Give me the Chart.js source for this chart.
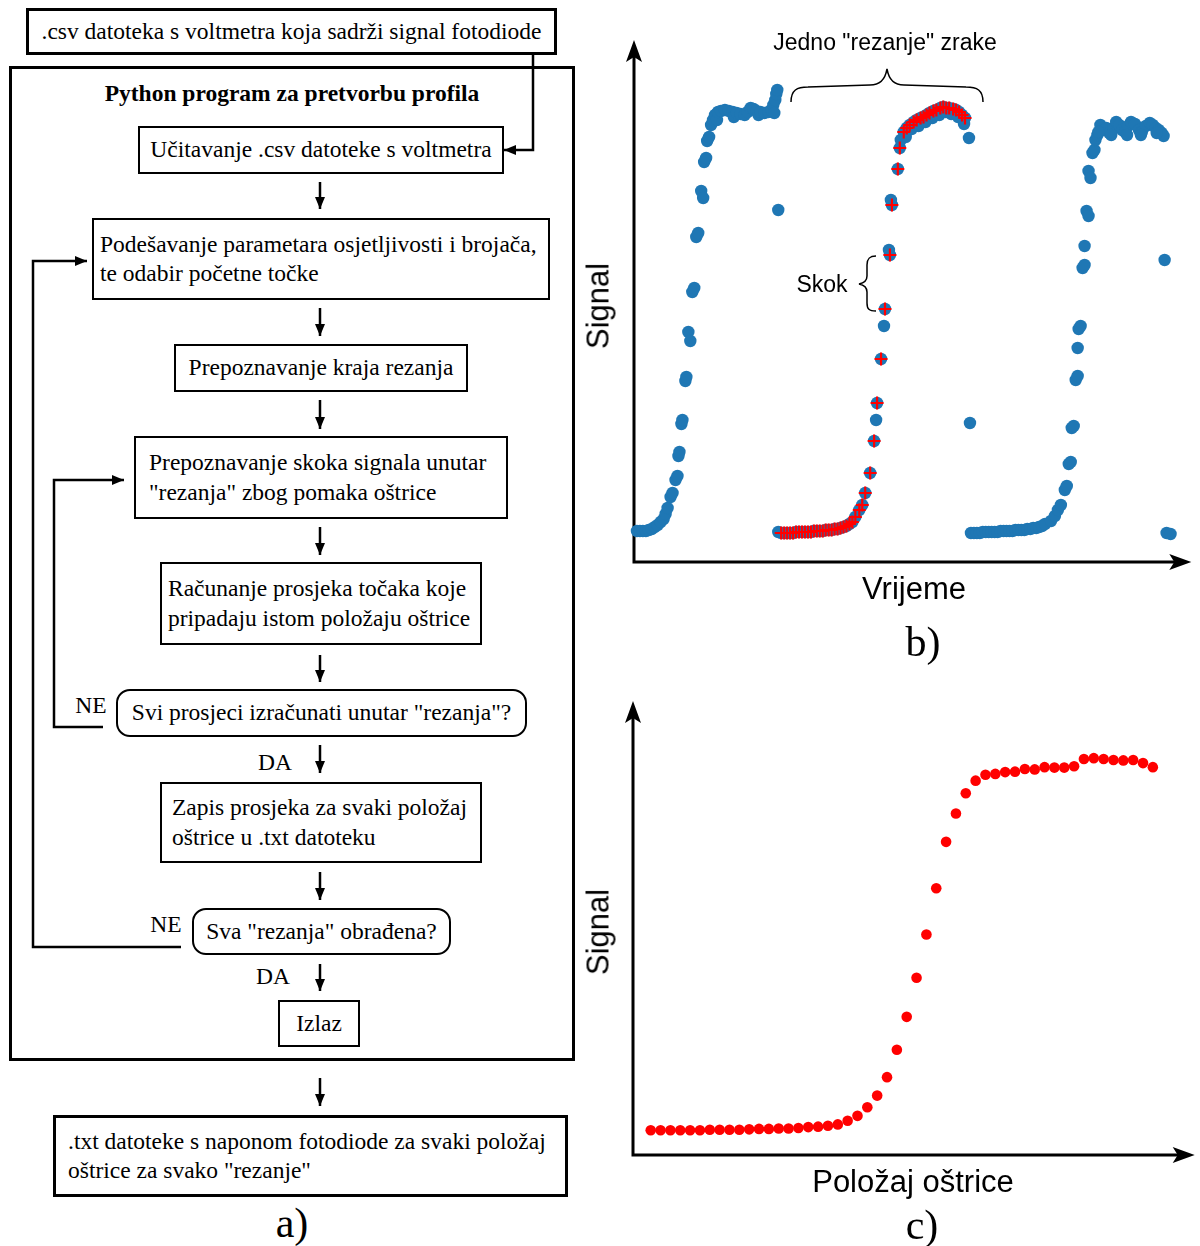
<!DOCTYPE html>
<html>
<head>
<meta charset="utf-8">
<script src="https://cdn.jsdelivr.net/npm/chart.js@4.4.0/dist/chart.umd.min.js"></script>
<style>
body { margin: 0; background: #fff; }
#page { position: relative; width: 1200px; height: 1246px; overflow: hidden; font-family: "Liberation Serif", "Times New Roman", serif; color: #000; }
.box { position: absolute; box-sizing: border-box; border: 2px solid #000; display: flex; align-items: center; font-size: 23.5px; line-height: 29.5px; white-space: nowrap; }
.thick { border-width: 3px; }
.c { justify-content: center; }
.r { border-radius: 14px; }
.lbl { position: absolute; white-space: nowrap; line-height: 1; transform: translate(-50%, -50%); }
.sans { font-family: "Liberation Sans", Arial, sans-serif; }
canvas { position: absolute; }
svg { position: absolute; left: 0; top: 0; }
</style>
</head>
<body>
<div id="page">
  <!-- a) flowchart -->
  <div class="box thick c" style="left:26px;top:8px;width:531px;height:47px;">.csv datoteka s voltmetra koja sadrži signal fotodiode</div>
  <div class="box thick" style="left:9px;top:66px;width:566px;height:995px;"></div>
  <div style="position:absolute;left:9px;top:80px;width:566px;text-align:center;font-weight:bold;font-size:23.5px;line-height:26px;">Python program za pretvorbu profila</div>
  <div class="box c" style="left:138px;top:126px;width:366px;height:48px;">Učitavanje .csv datoteke s voltmetra</div>
  <div class="box" style="left:92px;top:218px;width:458px;height:82px;padding-left:6px;">Podešavanje parametara osjetljivosti i brojača,<br>te odabir početne točke</div>
  <div class="box c" style="left:174px;top:344px;width:294px;height:48px;">Prepoznavanje kraja rezanja</div>
  <div class="box" style="left:134px;top:436px;width:374px;height:83px;padding-left:13px;">Prepoznavanje skoka signala unutar<br>"rezanja" zbog pomaka oštrice</div>
  <div class="box" style="left:160px;top:562px;width:322px;height:83px;padding-left:6px;">Računanje prosjeka točaka koje<br>pripadaju istom položaju oštrice</div>
  <div class="box c r" style="left:116px;top:689px;width:411px;height:48px;">Svi prosjeci izračunati unutar "rezanja"?</div>
  <div class="box" style="left:160px;top:782px;width:322px;height:81px;padding-left:10px;">Zapis prosjeka za svaki položaj<br>oštrice u .txt datoteku</div>
  <div class="box c r" style="left:192px;top:908px;width:259px;height:47px;">Sva "rezanja" obrađena?</div>
  <div class="box c" style="left:278px;top:1000px;width:82px;height:47px;">Izlaz</div>
  <div class="box thick" style="left:53px;top:1115px;width:515px;height:82px;padding-left:12px;">.txt datoteke s naponom fotodiode za svaki položaj<br>oštrice za svako "rezanje"</div>
  <div class="lbl" style="left:91px;top:706px;font-size:23.5px;">NE</div>
  <div class="lbl" style="left:166px;top:925px;font-size:23.5px;">NE</div>
  <div class="lbl" style="left:275px;top:763px;font-size:23.5px;">DA</div>
  <div class="lbl" style="left:273px;top:977px;font-size:23.5px;">DA</div>
  <div class="lbl" style="left:292px;top:1223px;font-size:42px;">a)</div>

  <!-- b) and c) charts -->
  <canvas id="chartB" width="600" height="560" style="left:600px;top:20px;"></canvas>
  <canvas id="chartC" width="600" height="490" style="left:600px;top:680px;"></canvas>

  <div class="lbl sans" style="left:598px;top:306px;font-size:31px;transform:translate(-50%,-50%) rotate(-90deg);">Signal</div>
  <div class="lbl sans" style="left:914px;top:588px;font-size:31px;">Vrijeme</div>
  <div class="lbl sans" style="left:885px;top:42px;font-size:23px;">Jedno "rezanje" zrake</div>
  <div class="lbl sans" style="left:822px;top:284px;font-size:23px;">Skok</div>
  <div class="lbl" style="left:923px;top:642px;font-size:42px;">b)</div>

  <div class="lbl sans" style="left:598px;top:932px;font-size:31px;transform:translate(-50%,-50%) rotate(-90deg);">Signal</div>
  <div class="lbl sans" style="left:913px;top:1181px;font-size:31px;">Položaj oštrice</div>
  <div class="lbl" style="left:922px;top:1225px;font-size:42px;">c)</div>

  <svg width="1200" height="1246">
    <defs>
      <marker id="ah" viewBox="0 0 12 10" refX="12" refY="5" markerWidth="12" markerHeight="10" markerUnits="userSpaceOnUse" orient="auto">
        <path d="M0,0 L12,5 L0,10 z" fill="#000"/>
      </marker>
    </defs>
    <g fill="none" stroke="#000" stroke-width="2.5" marker-end="url(#ah)">
      <path d="M533,55 V150 H504"/>
      <path d="M320,182 V209"/>
      <path d="M320,308 V336"/>
      <path d="M320,400 V429"/>
      <path d="M320,527 V555"/>
      <path d="M320,655 V682"/>
      <path d="M320,745 V773"/>
      <path d="M320,872 V900"/>
      <path d="M320,964 V991"/>
      <path d="M320,1078 V1106"/>
      <path d="M103,727 H54 V480 H124"/>
      <path d="M181,947 H33 V261 H87"/>
    </g>
    <g fill="none" stroke="#000" stroke-width="1.5">
      <path d="M791,102 C791,90 797,87 808,87 L870,85 C880,85 885,80 887,69 C889,80 894,85 904,85 L966,87 C977,87 983,90 983,102"/>
      <path d="M876,256 C869,256 867,259 867,265 L867,276 C867,281 864,283 859,284 C864,285 867,287 867,292 L867,303 C867,309 869,311 876,311"/>
    </g>
  </svg>
</div>

<script>
// b) raw voltmeter signal: time (s) and photodiode signal (V)
const cut1Time = [0.3, 0.6, 0.9, 1.2, 1.5, 1.8, 2.1, 2.4, 2.7, 3.0, 3.2, 3.4, 3.7, 3.9, 4.2, 4.4, 4.5, 4.6, 4.8, 4.9,
  5.2, 5.3, 5.5, 5.7, 5.9, 6.1, 6.3, 6.5, 6.8, 7.0, 7.1, 7.3, 7.4, 7.6, 7.8, 8.0, 8.2, 8.4, 8.5, 8.8,
  9.2, 9.6, 10.0, 10.1, 10.4, 10.8, 11.2, 11.5, 11.8, 12.1, 12.4, 12.6, 12.8, 13.2, 13.6, 13.9, 14.1, 14.2, 14.3, 14.4, 14.5];
const cut1Signal = [0.31, 0.31, 0.31, 0.31, 0.32, 0.33, 0.35, 0.37, 0.40, 0.43, 0.48, 0.54, 0.65, 0.69, 0.82, 0.86, 1.06, 1.10, 1.38, 1.42,
  1.81, 1.85, 2.30, 2.21, 2.70, 2.74, 3.25, 3.29, 3.71, 3.64, 4.00, 4.04, 4.21, 4.25, 4.37, 4.42, 4.47, 4.42, 4.50, 4.51,
  4.52, 4.51, 4.50, 4.45, 4.49, 4.48, 4.47, 4.50, 4.54, 4.53, 4.51, 4.47, 4.50, 4.49, 4.50, 4.52, 4.57, 4.49, 4.62, 4.68, 4.72];

const cut2Time = [14.6, 14.9, 15.2, 15.5, 15.8, 16.1, 16.4, 16.7, 17.0, 17.3, 17.6, 17.9, 18.2, 18.5, 18.8, 19.1, 19.4, 19.7, 20.0, 20.3,
  20.6, 20.9, 21.2, 21.5, 21.8, 22.1, 22.4, 22.8, 23.1, 23.4, 23.9, 24.3, 24.5, 24.6, 25.0, 25.3, 25.4, 25.9, 25.8, 26.1,
  26.0, 26.7, 26.9, 27.0, 27.3, 27.6, 27.9, 28.3, 28.6, 29.0, 29.3, 29.6, 29.9, 30.3, 30.6, 31.0, 31.3, 31.6, 31.9, 32.3,
  32.6, 32.9, 33.2, 33.5, 27.5, 28.1, 28.8, 29.5, 30.2, 30.9, 31.5, 32.1, 32.8, 33.4, 33.9];
const cut2Signal = [0.30, 0.29, 0.29, 0.29, 0.29, 0.29, 0.30, 0.30, 0.30, 0.30, 0.30, 0.30, 0.31, 0.31, 0.31, 0.31, 0.32, 0.32, 0.32, 0.33,
  0.33, 0.34, 0.35, 0.36, 0.38, 0.40, 0.45, 0.52, 0.57, 0.69, 0.89, 1.21, 1.42, 1.59, 2.03, 2.36, 2.53, 3.07, 3.12, 3.57,
  3.62, 3.93, 4.14, 4.22, 4.30, 4.34, 4.37, 4.40, 4.42, 4.44, 4.45, 4.47, 4.49, 4.51, 4.52, 4.54, 4.55, 4.54, 4.54, 4.53,
  4.52, 4.50, 4.47, 4.44, 4.25, 4.33, 4.36, 4.40, 4.44, 4.47, 4.50, 4.48, 4.45, 4.38, 4.24];

const cut3Time = [34.1, 34.4, 34.7, 35.0, 35.3, 35.6, 35.9, 36.2, 36.5, 36.8, 37.1, 37.4, 37.7, 38.0, 38.3, 38.6, 38.9, 39.2, 39.5, 39.8,
  40.1, 40.4, 40.7, 41.0, 41.3, 41.6, 42.2, 42.6, 42.9, 43.2, 43.6, 43.8, 44.0, 44.2, 44.3, 44.5, 44.7, 44.9, 44.9, 45.0,
  45.2, 45.4, 45.6, 45.6, 45.8, 46.0, 46.0, 46.2, 46.4, 46.6, 46.7, 46.9, 47.2, 47.5, 47.8, 48.1, 48.5, 48.8, 49.1, 49.4,
  49.7, 50.0, 50.3, 50.7, 51.1, 51.4, 51.8, 52.2, 52.5, 52.8, 53.1, 53.4, 53.6, 47.0, 48.3, 49.9, 51.3, 52.9, 53.9, 54.3];
const cut3Signal = [0.29, 0.29, 0.29, 0.29, 0.30, 0.30, 0.30, 0.30, 0.30, 0.30, 0.31, 0.31, 0.31, 0.31, 0.31, 0.32, 0.32, 0.32, 0.32, 0.33,
  0.33, 0.34, 0.34, 0.35, 0.36, 0.38, 0.41, 0.46, 0.52, 0.57, 0.72, 0.76, 0.98, 1.00, 1.34, 1.36, 1.82, 1.86, 2.14, 2.33,
  2.36, 2.94, 2.97, 3.16, 3.51, 3.46, 3.91, 3.84, 4.09, 4.12, 4.22, 4.27, 4.37, 4.32, 4.34, 4.29, 4.34, 4.40, 4.37, 4.32,
  4.30, 4.36, 4.40, 4.38, 4.32, 4.30, 4.36, 4.39, 4.37, 4.34, 4.32, 4.29, 4.26, 4.30, 4.27, 4.27, 4.27, 4.29, 0.29, 0.28];

const strayTime = [14.6, 34.0, 53.7];
const straySignal = [3.52, 1.39, 3.02];

// points picked out as one "cut" (red crosses)
const pickedTime = [14.9, 15.2, 15.5, 15.8, 16.1, 16.4, 16.7, 17.0, 17.3, 17.6, 17.9, 18.2, 18.5, 18.8, 19.1, 19.4, 19.7, 20.0, 20.3, 20.6,
  20.9, 21.2, 21.5, 21.8, 22.1, 22.4, 22.8, 23.1, 23.4, 23.9, 24.3, 24.6, 25.0, 25.4, 25.9, 26.1, 26.7, 26.9, 27.3, 27.6,
  27.9, 28.3, 28.6, 29.0, 29.3, 29.6, 29.9, 30.3, 30.6, 31.0, 31.3, 31.6, 31.9, 32.3, 32.6, 32.9, 33.2, 33.5];
const pickedSignal = [0.29, 0.29, 0.29, 0.29, 0.29, 0.30, 0.30, 0.30, 0.30, 0.30, 0.30, 0.31, 0.31, 0.31, 0.31, 0.32, 0.32, 0.32, 0.33, 0.33,
  0.34, 0.35, 0.36, 0.38, 0.40, 0.45, 0.52, 0.57, 0.69, 0.89, 1.21, 1.59, 2.03, 2.53, 3.07, 3.57, 3.93, 4.14, 4.30, 4.34,
  4.37, 4.40, 4.42, 4.44, 4.45, 4.47, 4.49, 4.51, 4.52, 4.54, 4.55, 4.54, 4.54, 4.53, 4.52, 4.50, 4.47, 4.44];

// c) averaged signal for every blade position
const bladePosition = [0, 1, 2, 3, 4, 5, 6, 7, 8, 9, 10, 11, 12, 13, 14, 15, 16, 17, 18, 19, 20, 21, 22, 23, 24, 25,
  26, 27, 28, 29, 30, 31, 32, 33, 34, 35, 36, 37, 38, 39, 40, 41, 42, 43, 44, 45, 46, 47, 48, 49, 50, 51];
const avgSignal = [0.055, 0.055, 0.055, 0.055, 0.055, 0.055, 0.056, 0.056, 0.056, 0.056,
  0.057, 0.058, 0.058, 0.059, 0.059, 0.060, 0.062, 0.063, 0.065, 0.068,
  0.076, 0.087, 0.106, 0.132, 0.173, 0.234, 0.307, 0.394, 0.490, 0.593,
  0.696, 0.759, 0.804, 0.832, 0.845, 0.847, 0.851, 0.852, 0.858, 0.857,
  0.862, 0.861, 0.861, 0.864, 0.880, 0.882, 0.880, 0.878, 0.877, 0.878,
  0.871, 0.862];

const pts = (xs, ys) => xs.map((x, i) => ({ x: x, y: ys[i] }));

// plain black axes with arrow heads, no ticks
const arrowAxes = {
  id: 'arrowAxes',
  beforeDatasetsDraw(chart) {
    const ctx = chart.ctx;
    const a = chart.chartArea;
    ctx.save();
    ctx.strokeStyle = '#000';
    ctx.fillStyle = '#000';
    ctx.lineWidth = 3;
    ctx.lineJoin = 'miter';
    ctx.beginPath();
    ctx.moveTo(a.left, a.top + 14);
    ctx.lineTo(a.left, a.bottom);
    ctx.lineTo(a.right - 14, a.bottom);
    ctx.stroke();
    ctx.beginPath();
    ctx.moveTo(a.left, a.top);
    ctx.lineTo(a.left - 8, a.top + 22);
    ctx.lineTo(a.left, a.top + 17);
    ctx.lineTo(a.left + 8, a.top + 22);
    ctx.closePath();
    ctx.fill();
    ctx.beginPath();
    ctx.moveTo(a.right, a.bottom);
    ctx.lineTo(a.right - 22, a.bottom - 8);
    ctx.lineTo(a.right - 17, a.bottom);
    ctx.lineTo(a.right - 22, a.bottom + 8);
    ctx.closePath();
    ctx.fill();
    ctx.restore();
  }
};

const blue = '#1f77b4';
const dot = (data) => ({
  data: data,
  pointRadius: 6.2,
  pointBackgroundColor: blue,
  pointBorderWidth: 0,
  pointBorderColor: blue,
  clip: false
});

new Chart(document.getElementById('chartB'), {
  type: 'scatter',
  data: {
    datasets: [
      {
        data: pts(pickedTime, pickedSignal),
        pointStyle: 'cross',
        pointRadius: 6.5,
        pointBorderColor: '#ff0000',
        pointBorderWidth: 2.2,
        clip: false
      },
      dot(pts(cut1Time, cut1Signal)),
      dot(pts(cut2Time, cut2Signal)),
      dot(pts(cut3Time, cut3Signal)),
      dot(pts(strayTime, straySignal))
    ]
  },
  options: {
    responsive: false,
    animation: false,
    devicePixelRatio: 1,
    layout: { padding: { left: 34, top: 20, right: 2, bottom: 18 } },
    plugins: { legend: { display: false }, tooltip: { enabled: false } },
    scales: {
      x: { type: 'linear', min: 0, max: 56.4, display: false },
      y: { type: 'linear', min: 0, max: 5.22, display: false }
    }
  },
  plugins: [arrowAxes]
});

new Chart(document.getElementById('chartC'), {
  type: 'scatter',
  data: {
    datasets: [{
      data: pts(bladePosition, avgSignal),
      pointRadius: 5.3,
      pointBackgroundColor: '#ff0000',
      pointBorderWidth: 0,
      pointBorderColor: '#ff0000',
      clip: false
    }]
  },
  options: {
    responsive: false,
    animation: false,
    devicePixelRatio: 1,
    layout: { padding: { left: 33, top: 21, right: 2, bottom: 15 } },
    plugins: { legend: { display: false }, tooltip: { enabled: false } },
    scales: {
      x: { type: 'linear', min: -1.8, max: 55.25, display: false },
      y: { type: 'linear', min: 0, max: 1.009, display: false }
    }
  },
  plugins: [arrowAxes]
});
</script>
</body>
</html>
